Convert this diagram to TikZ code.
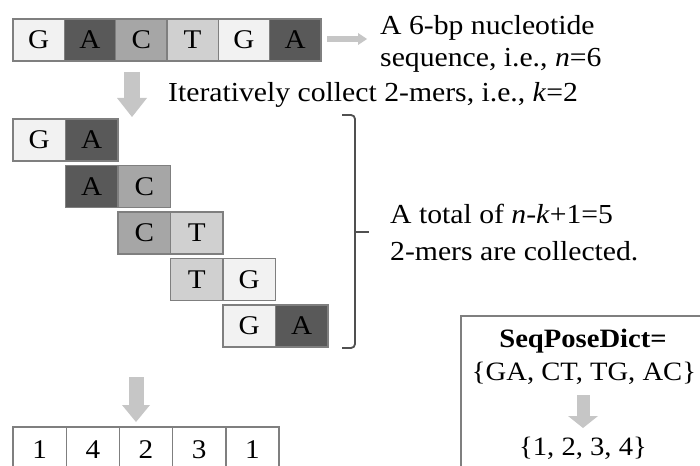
\documentclass[tikz,border=0pt]{standalone}
\usepackage{fontspec}
\setmainfont[FakeStretch=1.08]{Liberation Serif}
\usetikzlibrary{arrows.meta,positioning}

\definecolor{fillG}{HTML}{F2F2F2}
\definecolor{fillA}{HTML}{595959}
\definecolor{fillC}{HTML}{A6A6A6}
\definecolor{fillT}{HTML}{D0D0D0}
\definecolor{cellline}{HTML}{7F7F7F}
\definecolor{arrowgray}{HTML}{C6C6C6}
\definecolor{braceline}{HTML}{505050}

\begin{document}
\begin{tikzpicture}[x=1pt,y=-1pt,
  cell/.style={draw=cellline,line width=1.4pt,outer sep=0pt,inner sep=0pt,
    minimum width=52.5pt,minimum height=42pt,font=\fontsize{27}{27}\selectfont},
  baseG/.style={cell,fill=fillG},
  baseA/.style={cell,fill=fillA},
  baseC/.style={cell,fill=fillC},
  baseT/.style={cell,fill=fillT},
  poscell/.style={cell,fill=white,minimum width=53.2pt,minimum height=45pt},
  blockarrow/.style={arrowgray,line width=16pt,-{Triangle[width=30pt,length=19pt,line width=0pt]}},
  note/.style={anchor=base west,inner sep=0pt,align=left},
  dicttext/.style={anchor=base,inner sep=0pt,font=\fontsize{26.5}{26.5}\selectfont}]
  \useasboundingbox (0,0) rectangle (700,465);

  % the 6-bp sequence
  \node[baseG,minimum width=51.3pt,anchor=north west] (s1) at (13,19) {G};
  \node[baseA,minimum width=51.3pt,right=0pt of s1] (s2) {A};
  \node[baseC,minimum width=51.3pt,right=0pt of s2] (s3) {C};
  \node[baseT,minimum width=51.3pt,right=0pt of s3] (s4) {T};
  \node[baseG,minimum width=51.3pt,right=0pt of s4] (s5) {G};
  \node[baseA,minimum width=51.3pt,right=0pt of s5] (s6) {A};

  \coordinate (seqtail) at (327,39);
  \coordinate (seqhead) at (367,39);
  \draw[arrowgray,line width=6pt,-{Triangle[width=12pt,length=9pt,line width=0pt]}] (seqtail) -- (seqhead);
  % base of a two-line note sits on its last line
  \node[note,font=\fontsize{27.5}{32}\selectfont] (seqnote) at (380,67)
    {A 6-bp nucleotide\\sequence, i.e., \textit{n}=6};

  \coordinate (split1) at (132,72);
  \coordinate (split2) at (132,117);
  \draw[blockarrow] (split1) -- (split2);
  \node[note,font=\fontsize{27.5}{32}\selectfont] (iternote) at (168,102)
    {Iteratively collect 2-mers, i.e., \textit{k}=2};

  % the five 2-mers, shifted one cell per row
  \node[baseG,anchor=north west] (m1a) at (13,119) {G};
  \node[baseA,right=0pt of m1a] (m1b) {A};
  \node[baseA,below=4.5pt of m1b] (m2a) {A};
  \node[baseC,right=0pt of m2a] (m2b) {C};
  \node[baseC,below=4.5pt of m2b] (m3a) {C};
  \node[baseT,right=0pt of m3a] (m3b) {T};
  \node[baseT,below=4.5pt of m3b] (m4a) {T};
  \node[baseG,right=0pt of m4a] (m4b) {G};
  \node[baseG,below=4.5pt of m4b] (m5a) {G};
  \node[baseA,right=0pt of m5a] (m5b) {A};

  \draw[braceline,line width=1.8pt,rounded corners=4pt] (342,115) -- (355,115) -- (355,348) -- (342,348);
  \draw[braceline,line width=1.8pt] (355,232) -- (369,232);
  \node[note,font=\fontsize{27.5}{37}\selectfont] (totalnote) at (390,260)
    {A total of \textit{n}-\textit{k}+1=5\\2-mers are collected.};

  % positions of the 2-mers in the dictionary
  \coordinate (index1) at (136,377);
  \coordinate (index2) at (136,422);
  \draw[blockarrow,line width=15pt,-{Triangle[width=28pt,length=17pt,line width=0pt]}] (index1) -- (index2);
  \node[poscell,anchor=north west] (p1) at (13,427) {1};
  \node[poscell,right=0pt of p1] (p2) {4};
  \node[poscell,right=0pt of p2] (p3) {2};
  \node[poscell,right=0pt of p3] (p4) {3};
  \node[poscell,right=0pt of p4] (p5) {1};

  \draw[cellline,line width=1.4pt] (461,316) rectangle (740,500);
  \node[dicttext] (dictname) at (583,347) {\textbf{SeqPoseDict=}};
  \node[dicttext] (dictkeys) at (584,380) {\{GA, CT, TG, AC\}};
  \coordinate (dict1) at (583,395);
  \coordinate (dict2) at (583,428);
  \draw[blockarrow,line width=13pt,-{Triangle[width=30pt,length=12pt,line width=0pt]}] (dict1) -- (dict2);
  \node[dicttext] (dictvals) at (583,455) {\{1, 2, 3, 4\}};
\end{tikzpicture}
\end{document}
